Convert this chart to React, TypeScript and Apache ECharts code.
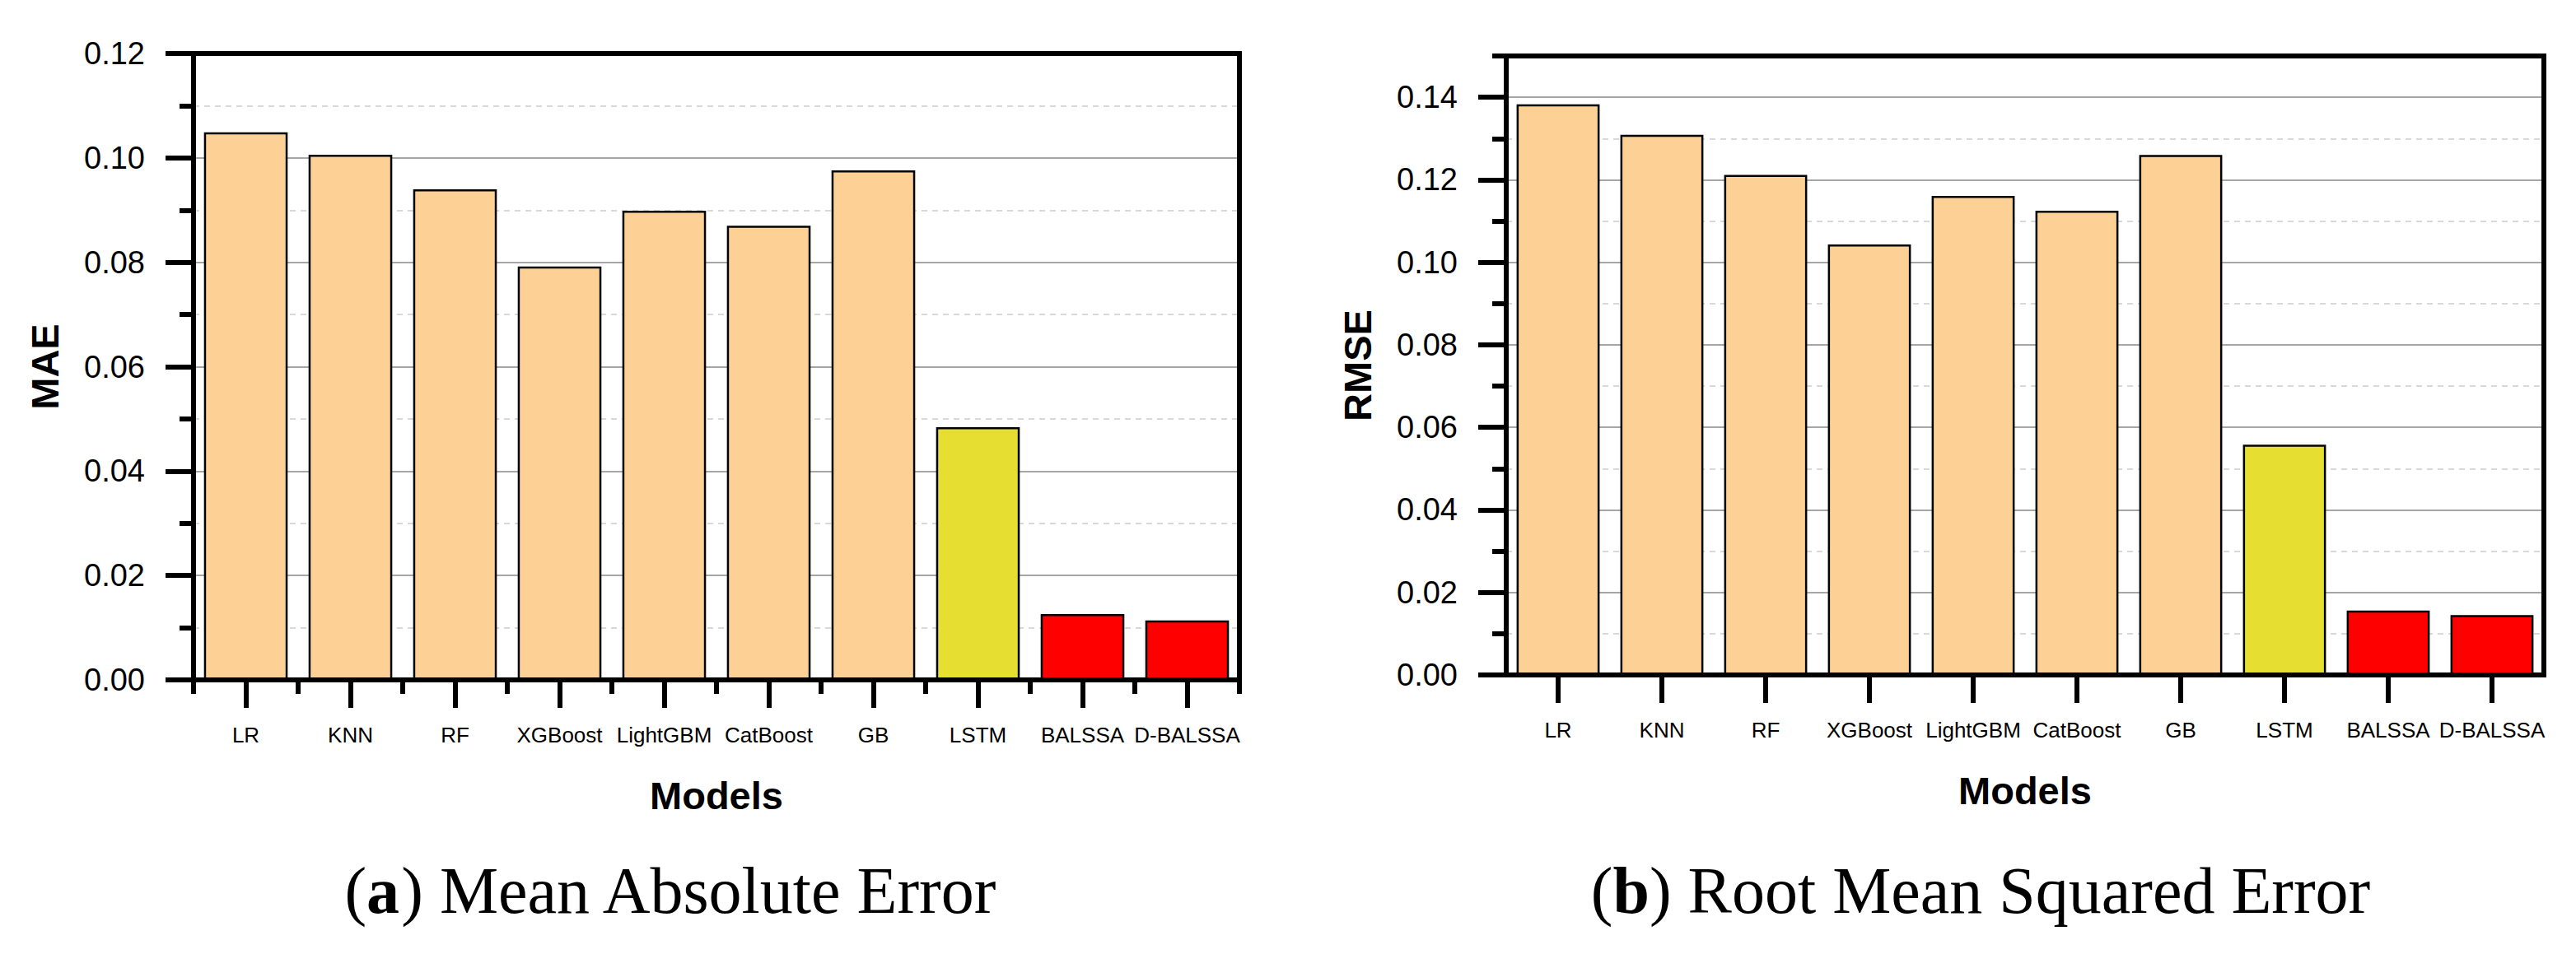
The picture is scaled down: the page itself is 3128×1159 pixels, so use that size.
import React, { useEffect, useRef } from "react";
import * as echarts from "echarts";

const models = ["LR", "KNN", "RF", "XGBoost", "LightGBM", "CatBoost", "GB", "LSTM", "BALSSA", "D-BALSSA"];
const maeValues = [0.1049, 0.1006, 0.094, 0.0792, 0.0899, 0.087, 0.0976, 0.0484, 0.0126, 0.0114];
const rmseValues = [0.1383, 0.1309, 0.1212, 0.1043, 0.1161, 0.1125, 0.126, 0.0558, 0.0156, 0.0145];
const barColors = ["#FDD096", "#FDD096", "#FDD096", "#FDD096", "#FDD096", "#FDD096", "#FDD096", "#E6DF32", "#FF0000", "#FF0000"];

const maeMajorTicks = [0, 0.02, 0.04, 0.06, 0.08, 0.1, 0.12];
const maeMinorTicks = [0.01, 0.03, 0.05, 0.07, 0.09, 0.11];
const rmseMajorTicks = [0, 0.02, 0.04, 0.06, 0.08, 0.1, 0.12, 0.14];
const rmseMinorTicks = [0.01, 0.03, 0.05, 0.07, 0.09, 0.11, 0.13, 0.15];

const SANS = "'Liberation Sans', Arial, sans-serif";
const SERIF = "'Liberation Serif', 'Times New Roman', serif";
const BLACK = "#000";

// layout of the two plot frames
const GRID_A = { left: 235, top: 65, width: 1270, height: 761 };
const GRID_B = { left: 1829, top: 68, width: 1260, height: 752 };

function majorY(gridIndex: number, max: number, ticks: number[], name: string, nameGap: number) {
  return {
    type: "value",
    gridIndex,
    min: 0,
    max,
    position: "left",
    name,
    nameLocation: "middle",
    nameGap,
    nameTextStyle: { fontFamily: SANS, fontSize: 47, fontWeight: "bold", color: BLACK },
    axisLine: { show: true, onZero: false, lineStyle: { color: BLACK, width: 6, cap: "square" } },
    axisTick: { show: true, length: 34, customValues: ticks, lineStyle: { color: BLACK, width: 6 } },
    axisLabel: {
      show: true,
      customValues: ticks,
      margin: 59,
      fontFamily: SANS,
      fontSize: 38,
      color: BLACK,
      formatter: (v: number) => v.toFixed(2),
    },
    splitLine: { show: true, lineStyle: { color: "#888", width: 1.5, type: "solid" } },
  };
}

function minorY(gridIndex: number, max: number, ticks: number[]) {
  return {
    type: "value",
    gridIndex,
    min: 0,
    max,
    position: "left",
    axisLine: { show: false, onZero: false },
    axisTick: { show: true, length: 17, customValues: ticks, lineStyle: { color: BLACK, width: 6 } },
    axisLabel: { show: false },
    splitLine: { show: true, lineStyle: { color: "#cccccc", width: 1.5, type: [7, 6] } },
  };
}

function mainX(gridIndex: number, nameGap: number) {
  return {
    type: "category",
    gridIndex,
    data: models,
    position: "bottom",
    z: 5,
    name: "Models",
    nameLocation: "middle",
    nameGap,
    nameTextStyle: { fontFamily: SANS, fontSize: 47, fontWeight: "bold", color: BLACK },
    axisLine: { show: true, onZero: false, lineStyle: { color: BLACK, width: 6, cap: "square" } },
    axisTick: { show: true, alignWithLabel: true, length: 34, lineStyle: { color: BLACK, width: 6 } },
    axisLabel: { show: true, interval: 0, margin: 54, fontFamily: SANS, fontSize: 26, color: BLACK },
    splitLine: { show: false },
  };
}

function frame(g: { left: number; top: number; width: number; height: number }) {
  return {
    type: "rect",
    z: 10,
    silent: true,
    shape: { x: g.left, y: g.top, width: g.width, height: g.height },
    style: { fill: "none", stroke: BLACK, lineWidth: 6 },
  };
}

export default function App() {
  const ref = useRef<HTMLDivElement>(null);

  useEffect(() => {
    if (!ref.current) return;
    const chart = echarts.init(ref.current, undefined, { renderer: "svg" });
    const option = {
      animation: false,
      backgroundColor: "#fff",
      grid: [GRID_A, GRID_B],
      xAxis: [
        mainX(0, 117),
        {
          type: "category",
          gridIndex: 0,
          data: models,
          position: "bottom",
          z: 5,
          axisLine: { show: false, onZero: false },
          axisTick: { show: true, alignWithLabel: false, length: 17, lineStyle: { color: BLACK, width: 6 } },
          axisLabel: { show: false },
          splitLine: { show: false },
        },
        mainX(1, 117),
      ],
      yAxis: [
        majorY(0, 0.12, maeMajorTicks, "MAE", 157),
        minorY(0, 0.12, maeMinorTicks),
        majorY(1, 0.15, rmseMajorTicks, "RMSE", 157),
        minorY(1, 0.15, rmseMinorTicks),
      ],
      series: [
        {
          type: "bar",
          xAxisIndex: 0,
          yAxisIndex: 0,
          barCategoryGap: "20%",
          data: maeValues.map((v, i) => ({
            value: v,
            itemStyle: { color: barColors[i], borderColor: BLACK, borderWidth: 2.5 },
          })),
        },
        {
          type: "bar",
          xAxisIndex: 2,
          yAxisIndex: 2,
          barCategoryGap: "20%",
          data: rmseValues.map((v, i) => ({
            value: v,
            itemStyle: { color: barColors[i], borderColor: BLACK, borderWidth: 2.5 },
          })),
        },
      ],
      graphic: [
        frame(GRID_A),
        frame(GRID_B),
        {
          type: "text",
          x: 815,
          y: 1082,
          style: {
            text: "({b|a}) Mean Absolute Error",
            fontFamily: SERIF,
            fontSize: 80,
            fill: BLACK,
            align: "center",
            verticalAlign: "middle",
            rich: { b: { fontFamily: SERIF, fontSize: 80, fontWeight: "bold", fill: BLACK } },
          },
        },
        {
          type: "text",
          x: 2405,
          y: 1082,
          style: {
            text: "({b|b}) Root Mean Squared Error",
            fontFamily: SERIF,
            fontSize: 80,
            fill: BLACK,
            align: "center",
            verticalAlign: "middle",
            rich: { b: { fontFamily: SERIF, fontSize: 80, fontWeight: "bold", fill: BLACK } },
          },
        },
      ],
    };
    chart.setOption(option as any);
    return () => chart.dispose();
  }, []);

  return (
    <div
      ref={ref}
      style={{ position: "fixed", left: 0, top: 0, width: 3128, height: 1159, background: "#fff" }}
    />
  );
}
